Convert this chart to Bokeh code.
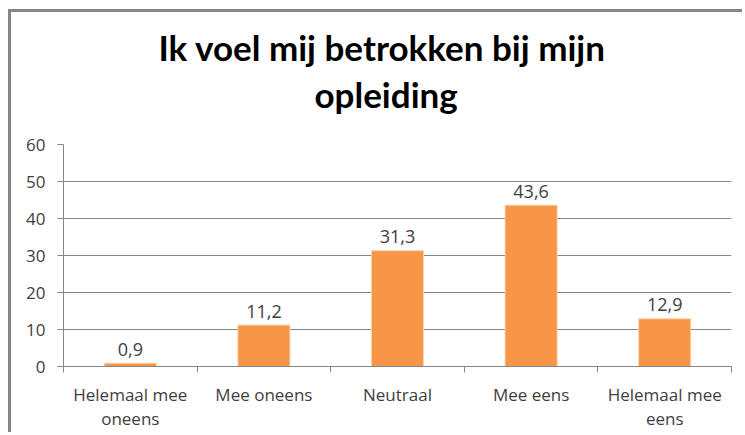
from bokeh.plotting import figure
from bokeh.models import Range1d, FixedTicker, Title, ColumnDataSource
from bokeh.core.properties import value
from bokeh.embed import file_html
from bokeh.resources import INLINE

# ---- data ----
categories = ["Helemaal mee\noneens", "Mee oneens", "Neutraal", "Mee eens", "Helemaal mee\neens"]
percentages = [0.9, 11.2, 31.3, 43.6, 12.9]
y_ticks = [0, 10, 20, 30, 40, 50, 60]
title_lines = ["Ik voel mij betrokken bij mijn", "opleiding"]

positions = [i + 0.5 for i in range(len(categories))]
boundaries = list(range(len(categories) + 1))
value_labels = [f"{v:.1f}".replace(".", ",") for v in percentages]

GRID = "#868686"
TEXT = "#404040"
FONT = "Open Sans"

p = figure(width=734, height=423, output_backend="svg", toolbar_location=None,
           x_range=Range1d(0, len(categories)), y_range=Range1d(y_ticks[0], y_ticks[-1]),
           min_border_left=52, min_border_right=14, min_border_top=132, min_border_bottom=69)
p.styles = {"border-left": "3px solid #868686", "border-top": "3px solid #868686",
            "margin-left": "8px", "margin-top": "9px"}
p.outline_line_color = None
p.background_fill_color = "white"
p.border_fill_color = "white"

# grid
p.xgrid.visible = False
p.ygrid.grid_line_color = GRID
p.ygrid.grid_line_width = 1

# y axis
p.yaxis.ticker = FixedTicker(ticks=y_ticks)
p.yaxis.axis_line_color = GRID
p.yaxis.major_tick_line_color = GRID
p.yaxis.major_tick_out = 6
p.yaxis.major_tick_in = 0
p.yaxis.minor_tick_line_color = None
p.yaxis.major_label_text_font = FONT
p.yaxis.major_label_text_font_size = "17px"
p.yaxis.major_label_text_color = TEXT
p.yaxis.major_label_standoff = 12

# x axis: labels at category centres, tick marks at boundaries
p.xaxis.ticker = FixedTicker(ticks=positions, minor_ticks=boundaries)
p.xaxis.major_label_overrides = {pos: cat for pos, cat in zip(positions, categories)}
p.xaxis.axis_line_color = GRID
p.xaxis.major_tick_line_color = None
p.xaxis.major_tick_out = 0
p.xaxis.major_tick_in = 0
p.xaxis.minor_tick_line_color = GRID
p.xaxis.minor_tick_out = 6
p.xaxis.minor_tick_in = 0
p.xaxis.major_label_text_font = FONT
p.xaxis.major_label_text_font_size = "17px"
p.xaxis.major_label_text_color = TEXT
p.xaxis.major_label_text_line_height = 1.08
p.xaxis.major_label_standoff = 10

src = ColumnDataSource(dict(x=positions, top=percentages, lab=value_labels))

p.vbar(x="x", top="top", width=0.39, source=src,
       fill_color="#F79646", line_color="#FAD3B1", line_width=1)

p.text(x="x", y="top", text="lab", source=src, text_align="center",
       text_baseline="alphabetic", y_offset=-14,
       text_font=value(FONT), text_font_size="18px", text_color=TEXT)

# two-line bold title (first added sits closest to the plot)
p.add_layout(Title(text=title_lines[1], align="left", offset=251, standoff=59,
                   text_font="Lato", text_font_style="bold", text_font_size="35px",
                   text_color="black"), "above")
p.add_layout(Title(text=title_lines[0], align="left", offset=95, standoff=-53,
                   text_font="Lato", text_font_style="bold", text_font_size="35px",
                   text_color="black"), "above")

open("out.html", "w").write(file_html(p, INLINE))
